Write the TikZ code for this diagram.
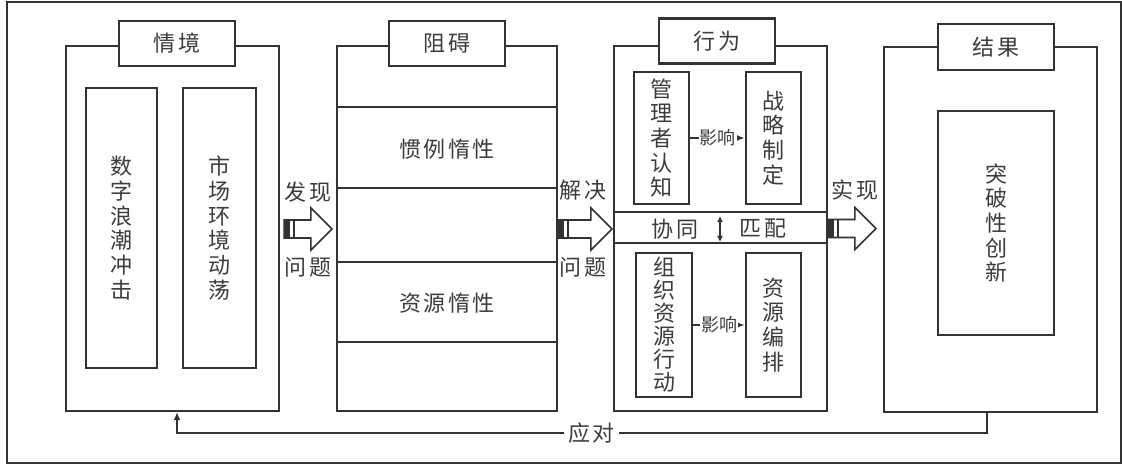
\documentclass[tikz,border=0pt]{standalone}
\usepackage{fontspec}
\setmainfont{Noto Sans CJK SC}
\usetikzlibrary{arrows.meta,calc}
\definecolor{lc}{HTML}{333333}
\definecolor{tc}{HTML}{3C3C3C}
\newcommand\cjkgap{\kern2.5pt}
\newcommand\blockarr[2]{%
  \filldraw[fill=white,draw=lc,line width=1.6pt,line join=miter]
    let \p1=(#1), \p2=(#2) in
    (\x1,\y1+9pt) -- (\x2-21pt,\y1+9pt) -- (\x2-21pt,\y1+21pt) -- (\x2,\y1)
    -- (\x2-21pt,\y1-21pt) -- (\x2-21pt,\y1-9pt) -- (\x1,\y1-9pt) -- cycle;
  \fill[lc] let \p1=(#1) in (\x1,\y1-9pt) rectangle (\x1+6pt,\y1+9pt);
  \fill[lc] let \p1=(#1) in (\x1+8.5pt,\y1-9pt) rectangle (\x1+11pt,\y1+9pt);
}
\begin{document}
\begin{tikzpicture}[x=1pt,y=-1pt,
  big/.style={draw=lc,line width=2.2pt,inner sep=0pt,minimum width=213pt,minimum height=365pt},
  ttl/.style={draw=lc,line width=2.2pt,fill=white,inner sep=0pt,minimum width=116pt,minimum height=45pt,text=tc,font=\fontsize{22}{25}\selectfont},
  vbox/.style={draw=lc,line width=2.2pt,inner sep=0pt,align=center,text=tc,font=\fontsize{22}{24.7}\selectfont},
  txt/.style={inner sep=0pt,text=tc,font=\fontsize{22}{24.7}\selectfont},
  small/.style={inner sep=1pt,fill=white,text=tc,font=\fontsize{18}{20}\selectfont},
  ln/.style={draw=lc,line width=2.2pt},
  inf/.style={draw=lc,line width=1.8pt,-{Latex[length=9pt,width=7pt]}},
]
\useasboundingbox (0,0) rectangle (1122,465);
\fill[white] (0,0) rectangle (1122,465);
\draw[lc,line width=1.3pt] (7,2) rectangle (1121,463);

% Box 1
\node[big] (B1) at (172.5,228.5) {};
\node[ttl] (T1) at (177,43.5) {情\cjkgap 境};
\node[vbox,minimum width=71pt,minimum height=280pt] (I11) at (121.5,228) {数\\字\\浪\\潮\\冲\\击};
\node[vbox,minimum width=73pt,minimum height=280pt] (I12) at (219.5,228) {市\\场\\环\\境\\动\\荡};

% Box 2
\node[big,minimum width=220pt] (B2) at (447,228.5) {};
\node[ttl] (T2) at (447,43.5) {阻\cjkgap 碍};
\draw[ln] ($(B2.north west)+(0,62)$) -- ($(B2.north east)+(0,62)$);
\draw[ln] ($(B2.north west)+(0,143)$) -- ($(B2.north east)+(0,143)$);
\draw[ln] ($(B2.north west)+(0,217)$) -- ($(B2.north east)+(0,217)$);
\draw[ln] ($(B2.north west)+(0,297)$) -- ($(B2.north east)+(0,297)$);
\node[txt] (R1) at (447,149) {惯\cjkgap 例\cjkgap 惰\cjkgap 性};
\node[txt] (R2) at (447,303) {资\cjkgap 源\cjkgap 惰\cjkgap 性};

% Box 3
\node[big] (B3) at (720.5,228.5) {};
\node[ttl] (T3) at (717,41) {行\cjkgap 为};
\draw[ln] ($(B3.north west)+(0,167)$) -- ($(B3.north east)+(0,167)$);
\draw[ln] ($(B3.north west)+(0,198)$) -- ($(B3.north east)+(0,198)$);
\node[vbox,minimum width=55pt,minimum height=132pt] (M1) at (661.5,138) {管\\理\\者\\认\\知};
\node[vbox,minimum width=55pt,minimum height=132pt] (M2) at (773.5,138) {战\\略\\制\\定};
\node[vbox,minimum width=56pt,minimum height=144pt,font=\fontsize{22}{23}\selectfont] (M3) at (664,325) {组\\织\\资\\源\\行\\动};
\node[vbox,minimum width=55pt,minimum height=144pt] (M4) at (773.5,325) {资\\源\\编\\排};
\draw[inf] (M1.east) -- node[small] {影响} (M2.west);
\draw[inf] (M3.east) -- node[small] {影响} (M4.west);
\node[txt] (X1) at (675,229) {协\cjkgap 同};
\node[txt] (X2) at (763,229) {匹\cjkgap 配};
\coordinate (ud1) at (720,216);
\coordinate (ud2) at (720,242);
\draw[draw=lc,line width=1.8pt,{Latex[length=6pt,width=6pt]}-{Latex[length=6pt,width=6pt]}] (ud1) -- (ud2);

% Box 4
\node[big] (B4) at (990.5,229.5) {};
\node[ttl,minimum height=46pt] (T4) at (996,47) {结\cjkgap 果};
\node[vbox,minimum width=116pt,minimum height=224pt] (I4) at (996,223) {突\\破\\性\\创\\新};

% block arrows
\coordinate (a1s) at ($(B1.east)+(4,0.5)$);
\coordinate (a1e) at ($(B2.west)+(-4,0.5)$);
\coordinate (a2s) at ($(B2.east)+(0,0.5)$);
\coordinate (a2e) at ($(B3.west)+(-1,0.5)$);
\coordinate (a3s) at ($(B3.east)+(0,0)$);
\coordinate (a3e) at ($(B4.west)+(-7,-1)$);
\blockarr{a1s}{a1e}
\blockarr{a2s}{a2e}
\blockarr{a3s}{a3e}
\node[txt] (L1) at (308,192) {发\cjkgap 现};
\node[txt] (L2) at (308,267) {问\cjkgap 题};
\node[txt] (L3) at (583,190) {解\cjkgap 决};
\node[txt] (L4) at (583,267) {问\cjkgap 题};
\node[txt] (L5) at (855,190) {实\cjkgap 现};

% feedback
\coordinate (fb1) at (987,433);
\coordinate (fb2) at (177,433);
\draw[draw=lc,line width=2pt,-{Latex[length=8pt,width=7pt]}] (B4.south -| fb1) -- (fb1) -- node[pos=0.488,txt,fill=white,inner xsep=4pt] {应\cjkgap 对} (fb2) -- (B1.south -| fb2);
\end{tikzpicture}
\end{document}
